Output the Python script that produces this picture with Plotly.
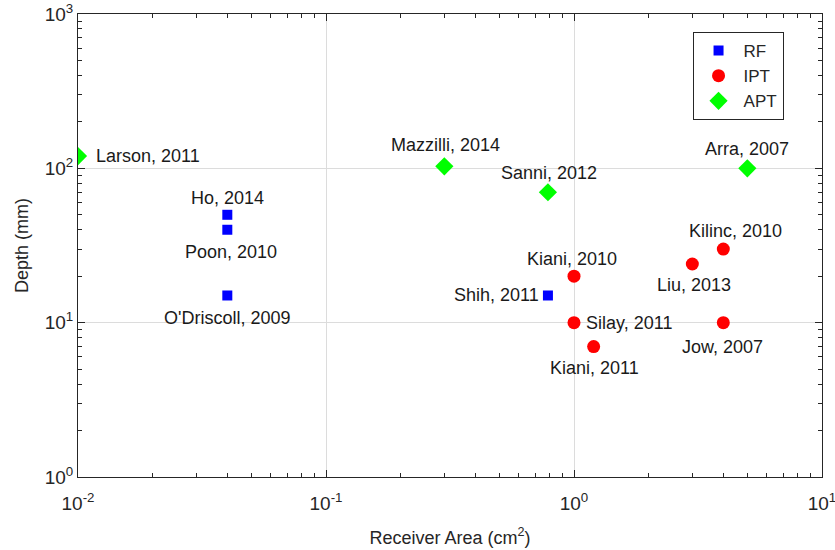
import math
import plotly.graph_objects as go

# Receiver area (cm^2) vs. implant depth (mm) for published wireless power links
rf_labels = ["Ho, 2014", "Poon, 2010", "O'Driscoll, 2009", "Shih, 2011"]
rf_area = [0.04, 0.04, 0.04, 0.785]
rf_depth = [50, 40, 15, 15]

ipt_labels = ["Kiani, 2010", "Silay, 2011", "Kiani, 2011", "Liu, 2013", "Kilinc, 2010", "Jow, 2007"]
ipt_area = [1.0, 1.0, 1.2, 3.0, 4.0, 4.0]
ipt_depth = [20, 10, 7, 24, 30, 10]

apt_labels = ["Larson, 2011", "Mazzilli, 2014", "Sanni, 2012", "Arra, 2007"]
apt_area = [0.01, 0.3, 0.785, 5.0]
apt_depth = [120, 103, 70, 100]

x_ticks = [0.01, 0.1, 1, 10]
x_ticktext = ["10<sup>-2</sup>", "10<sup>-1</sup>", "10<sup>0</sup>", "10<sup>1</sup>"]
y_ticks = [1, 10, 100, 1000]
y_ticktext = ["10<sup>0</sup>", "10<sup>1</sup>", "10<sup>2</sup>", "10<sup>3</sup>"]

# label placement: (anchor, xshift px, yshift px)
label_place = {
    "Ho, 2014": ("center", 0, 17),
    "Poon, 2010": ("center", 4, -22),
    "O'Driscoll, 2009": ("center", 0, -23),
    "Shih, 2011": ("right", -7, 0),
    "Kiani, 2010": ("center", -2, 17),
    "Silay, 2011": ("left", 10, 0),
    "Kiani, 2011": ("center", 1, -21),
    "Liu, 2013": ("center", 2, -21),
    "Kilinc, 2010": ("center", 12, 18),
    "Jow, 2007": ("center", -1, -24),
    "Larson, 2011": ("left", 16, 0),
    "Mazzilli, 2014": ("center", 1, 21),
    "Sanni, 2012": ("center", 1, 19),
    "Arra, 2007": ("center", 0, 19),
}

FONT = "Liberation Sans, Arial, Helvetica, sans-serif"
INK = "#262626"

fig = go.Figure()
fig.add_trace(go.Scatter(x=rf_area, y=rf_depth, mode="markers", name="RF",
                         marker=dict(symbol="square", size=10, color="#0000FF")))
fig.add_trace(go.Scatter(x=ipt_area, y=ipt_depth, mode="markers", name="IPT",
                         marker=dict(symbol="circle", size=13, color="#FF0000")))
fig.add_trace(go.Scatter(x=apt_area, y=apt_depth, mode="markers", name="APT",
                         marker=dict(symbol="diamond", size=14, color="#00FF00")))

annotations = []
for labels, xs, ys in [(rf_labels, rf_area, rf_depth),
                       (ipt_labels, ipt_area, ipt_depth),
                       (apt_labels, apt_area, apt_depth)]:
    for lab, xv, yv in zip(labels, xs, ys):
        anchor, dx, dy = label_place[lab]
        annotations.append(dict(
            x=math.log10(xv), y=math.log10(yv), xref="x", yref="y",
            text=lab, showarrow=False, xanchor=anchor, yanchor="middle",
            xshift=dx, yshift=dy,
            font=dict(family=FONT, size=18, color="#1a1a1a")))

minor_x = [k * 10 ** p for p in range(-2, 1) for k in range(2, 10)]
minor_y = [k * 10 ** p for p in range(0, 3) for k in range(2, 10)]

axis_common = dict(
    type="log", showline=True, linecolor=INK, linewidth=1, mirror="allticks",
    ticks="inside", ticklen=7, tickcolor=INK, automargin=False,
    ticklabeloverflow="allow",
    showgrid=True, gridcolor="#DCDCDC", gridwidth=1, zeroline=False,
    tickfont=dict(family=FONT, size=19, color=INK),
)

fig.update_xaxes(
    **axis_common, range=[-2, 1], tickvals=x_ticks, ticktext=x_ticktext,
    ticklabelstandoff=9,
    minor=dict(tickvals=minor_x, ticks="inside", ticklen=4, tickcolor=INK, showgrid=False),
    title=dict(text="Receiver Area (cm<sup>2</sup>)", font=dict(family=FONT, size=18, color=INK), standoff=18),
)
fig.update_yaxes(
    **axis_common, range=[0, 3], tickvals=y_ticks, ticktext=y_ticktext,
    minor=dict(tickvals=minor_y, ticks="inside", ticklen=4, tickcolor=INK, showgrid=False),
    title=dict(text="Depth (mm)", font=dict(family=FONT, size=18, color=INK), standoff=11),
)

fig.update_layout(
    width=835, height=550,
    margin=dict(l=78, r=13, t=14, b=73),
    plot_bgcolor="white", paper_bgcolor="white",
    annotations=annotations,
    showlegend=True,
    legend=dict(x=0.826, y=0.961, xanchor="left", yanchor="top",
                bgcolor="white", bordercolor=INK, borderwidth=1,
                font=dict(family=FONT, size=17, color=INK),
                itemwidth=40, tracegroupgap=0),
)

fig.write_html("out.html")
